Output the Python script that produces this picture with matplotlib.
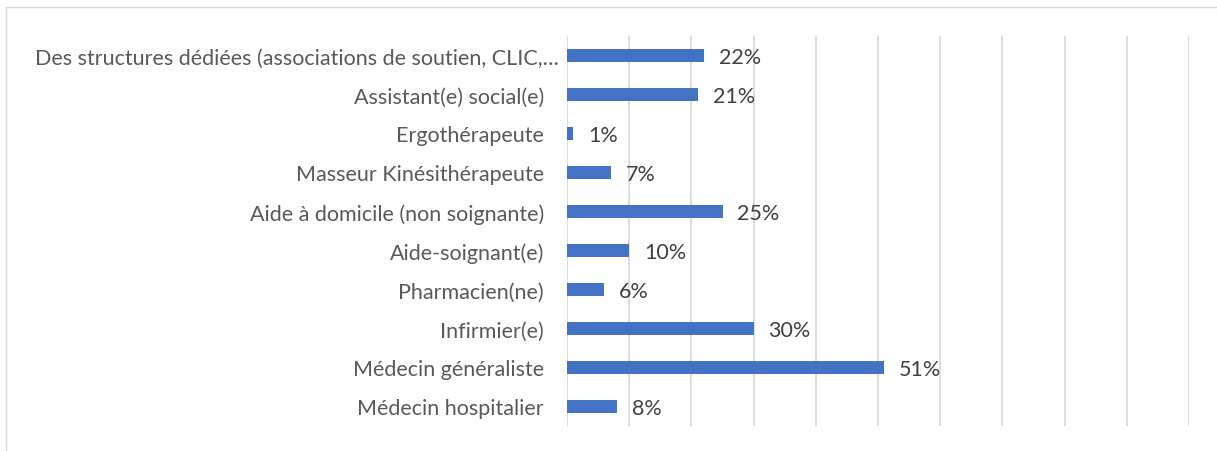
import matplotlib
matplotlib.use("Agg")
import matplotlib.pyplot as plt
from matplotlib.patches import Rectangle
from matplotlib.transforms import ScaledTranslation

categories = ["Médecin hospitalier", "Médecin généraliste", "Infirmier(e)", "Pharmacien(ne)",
              "Aide-soignant(e)", "Aide à domicile (non soignante)", "Masseur Kinésithérapeute",
              "Ergothérapeute", "Assistant(e) social(e)",
              "Des structures dédiées (associations de soutien, CLIC,…"]
values = [8, 51, 30, 6, 10, 25, 7, 1, 21, 22]

plt.rcParams['font.family'] = ['Lato', 'DejaVu Sans']

fig = plt.figure(figsize=(12.17, 4.52), dpi=100)
fig.patches.append(Rectangle((6/1217, -0.1), 1.2, 1 - 8/452 + 0.1, transform=fig.transFigure,
                             fill=False, edgecolor='#d9d9d9', lw=1))
ax = fig.add_axes([567/1217, 25/452, 622/1217, 390/452])

y = range(len(categories))
ax.barh(y, values, height=0.33, color='#4472C4', zorder=3)
for i, v in zip(y, values):
    ax.text(v + 2.4, i - 0.05, f"{v}%", va='center', ha='left', fontsize=15.5, color='#404040')

ax.set_xlim(0, 100)
ax.set_ylim(-0.5, len(categories) - 0.5)
ax.set_xticks(range(0, 101, 10))
ax.xaxis.grid(True, color='#d9d9d9', lw=1.3, zorder=0)
ax.tick_params(axis='x', length=0, labelbottom=False)
ax.tick_params(axis='y', length=0, pad=16.5, labelsize=15.5, labelcolor='#595959')
ax.set_yticks(list(y))
ax.set_yticklabels(categories)
# the truncated label sits closer to the axis
lab = ax.get_yticklabels()[-1]
lab.set_transform(lab.get_transform() + ScaledTranslation(15/100, 0, fig.dpi_scale_trans))
for s in ax.spines.values():
    s.set_visible(False)

fig.savefig("out.png", dpi=100)
